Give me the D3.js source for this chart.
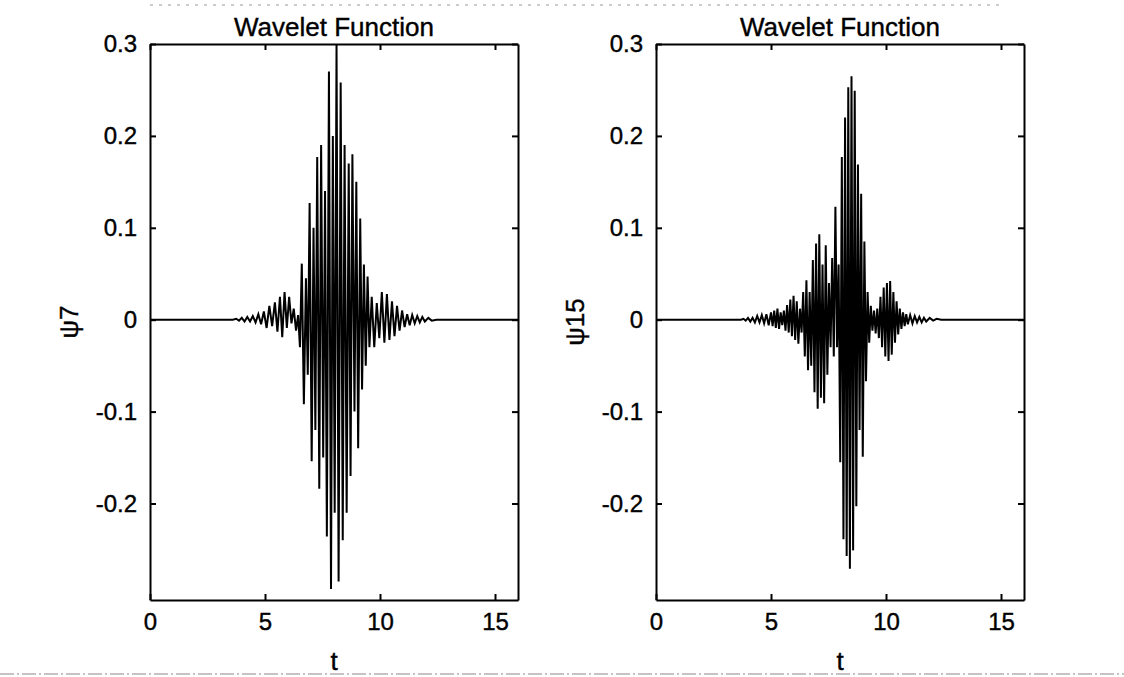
<!DOCTYPE html>
<html>
<head>
<meta charset="utf-8">
<script src="https://cdn.jsdelivr.net/npm/d3@7"></script>
<style>
  html, body { margin: 0; padding: 0; background: #fff; }
  svg { display: block; }
  text { font-family: "Liberation Sans", Arial, Helvetica, sans-serif; fill: #000; stroke: #000; stroke-width: 0.4px; }
</style>
</head>
<body>
<svg id="chart" width="1124" height="677"></svg>
<script>
// ---------------- data ----------------
const chartTitle = "Wavelet Function";
const xLabel = "t";
const yLabels = ["ψ7", "ψ15"];
const xTicks = [0, 5, 10, 15];
const yTicks = [-0.2, -0.1, 0, 0.1, 0.2, 0.3];
const xDomain = [0, 16];
const yDomain = [-0.305, 0.3];

// psi7: local extrema of the plotted wavelet (t, value)
const t7 = [0, 3.60, 3.75, 3.87, 3.99, 4.11, 4.23, 4.35, 4.47, 4.59, 4.71, 4.83, 4.95, 5.07, 5.19, 5.31,
  5.43, 5.54, 5.65, 5.75, 5.85, 5.95, 6.05, 6.15, 6.25, 6.35, 6.44,
  6.52, 6.60, 6.69, 6.78, 6.86, 6.94, 7.03, 7.11, 7.19, 7.27, 7.36, 7.44, 7.53, 7.61, 7.69, 7.78,
  7.87, 7.95, 8.03, 8.11, 8.20, 8.29, 8.38, 8.46, 8.55, 8.64, 8.72, 8.80, 8.89, 8.97, 9.05, 9.14,
  9.22, 9.30, 9.38, 9.46, 9.54,
  9.64, 9.75, 9.86, 9.97, 10.08, 10.19, 10.30, 10.41, 10.52, 10.63, 10.74, 10.85, 10.96, 11.07,
  11.18, 11.29, 11.40, 11.51, 11.62, 11.73, 11.84, 11.95, 12.10, 12.25, 12.45, 16];
const psi7 = [0, 0, 0.001, -0.001, 0.002, -0.002, 0.003, -0.002, 0.004, -0.003, 0.006, -0.005, 0.009, -0.009, 0.015, -0.007,
  0.019, -0.013, 0.025, -0.019, 0.030, -0.009, 0.025, -0.004, 0.012, -0.012, 0.005,
  -0.030, 0.061, -0.092, 0.045, -0.060, 0.127, -0.154, 0.100, -0.120, 0.177, -0.184, 0.190, -0.150, 0.140, -0.236, 0.270,
  -0.293, 0.200, -0.210, 0.300, -0.285, 0.258, -0.240, 0.190, -0.210, 0.170, -0.170, 0.180, -0.100, 0.150, -0.140, 0.110,
  -0.076, 0.060, -0.050, 0.047, -0.030,
  0.025, -0.030, 0.018, -0.020, 0.030, -0.025, 0.028, -0.022, 0.020, -0.018, 0.015, -0.012, 0.010, -0.008,
  0.006, -0.006, 0.005, -0.004, 0.004, -0.003, 0.003, -0.002, 0.002, -0.001, 0, 0];

// psi15: local extrema of the plotted wavelet (t, value)
const t15 = [0, 3.70, 3.80, 3.90, 4.00, 4.10, 4.20, 4.30, 4.40, 4.50, 4.60, 4.70, 4.80, 4.90, 5.00, 5.07,
  5.14, 5.21, 5.28, 5.35, 5.42, 5.49, 5.56, 5.63, 5.70, 5.77, 5.84, 5.91, 5.98, 6.05, 6.12, 6.19,
  6.26, 6.33, 6.40, 6.47, 6.54, 6.61, 6.68, 6.75, 6.82, 6.89, 6.96, 7.03, 7.10, 7.17, 7.24, 7.31,
  7.38, 7.45, 7.52, 7.59, 7.66, 7.73, 7.80, 7.87, 7.94, 8.01, 8.08, 8.15, 8.22, 8.29, 8.36, 8.43,
  8.50, 8.57, 8.64, 8.71, 8.78, 8.85, 8.92, 8.99, 9.06, 9.13, 9.20, 9.27, 9.34, 9.41, 9.48, 9.55,
  9.62, 9.69, 9.76, 9.83, 9.90, 9.97, 10.04, 10.11, 10.18, 10.25, 10.32, 10.39, 10.46, 10.53, 10.60, 10.67,
  10.74, 10.81, 10.88, 10.95, 11.05, 11.15, 11.25, 11.35, 11.45, 11.55, 11.65, 11.75, 11.90, 12.05, 12.20, 12.40, 16];
const psi15 = [0, 0, 0.001, -0.001, 0.002, -0.002, 0.002, -0.003, 0.004, -0.003, 0.005, -0.004, 0.006, -0.006, 0.008, -0.007,
  0.010, -0.009, 0.012, -0.010, 0.008, -0.006, 0.010, -0.012, 0.016, -0.014, 0.022, -0.018, 0.026, -0.022, 0.020, -0.026,
  0.012, -0.014, 0.030, -0.040, 0.043, -0.055, 0.030, -0.050, 0.065, -0.079, 0.083, -0.097, 0.093, -0.085, 0.060, -0.091,
  0.081, -0.060, 0.040, -0.030, 0.067, -0.040, 0.123, -0.030, 0.060, -0.155, 0.177, -0.239, 0.220, -0.257, 0.253, -0.271,
  0.265, -0.251, 0.249, -0.203, 0.169, -0.120, 0.137, -0.149, 0.085, -0.067, 0.030, -0.025, 0.015, -0.012, 0.010, -0.015,
  0.012, -0.020, 0.025, -0.030, 0.035, -0.040, 0.040, -0.045, 0.042, -0.038, 0.030, -0.025, 0.020, -0.016, 0.012, -0.010,
  0.008, -0.007, 0.006, -0.005, 0.005, -0.004, 0.004, -0.003, 0.003, -0.003, 0.002, -0.002, 0.002, -0.001, 0.001, 0, 0];

const series = [
  { t: t7, v: psi7, ylab: yLabels[0] },
  { t: t15, v: psi15, ylab: yLabels[1] }
];

// ---------------- layout ----------------
const svg = d3.select("#chart");
const plotTop = 44, plotBottom = 600;
const panelX = [[150, 518], [656, 1024]];
const fontSize = 24;

// faint scan frame lines
svg.append("line").attr("x1", 0).attr("x2", 1124).attr("y1", 674).attr("y2", 674)
  .attr("stroke", "#888").attr("stroke-width", 1).attr("stroke-dasharray", "14,3,2,3");
svg.append("line").attr("x1", 150).attr("x2", 1000).attr("y1", 5).attr("y2", 5)
  .attr("stroke", "#999").attr("stroke-width", 1).attr("stroke-dasharray", "3,6");

series.forEach((s, i) => {
  const [x0, x1] = panelX[i];
  const x = d3.scaleLinear().domain(xDomain).range([x0, x1]);
  const y = d3.scaleLinear().domain(yDomain).range([plotBottom, plotTop]);
  const g = svg.append("g");

  // data line
  const pts = s.t.map((t, k) => [t, s.v[k]]);
  g.append("path")
    .datum(pts)
    .attr("fill", "none")
    .attr("stroke", "#000")
    .attr("stroke-width", 2)
    .attr("stroke-linejoin", "miter")
    .attr("d", d3.line().x(d => x(d[0])).y(d => y(d[1])));

  // axes (MATLAB-style inward ticks, full box)
  const styleAxis = sel => {
    sel.select(".domain").attr("stroke", "#000").attr("stroke-width", 2);
    sel.selectAll(".tick line").attr("stroke", "#000").attr("stroke-width", 2);
    sel.selectAll("text").style("font-size", fontSize + "px").attr("fill", "#000");
  };
  g.append("g").attr("transform", `translate(0,${plotBottom})`)
    .call(d3.axisBottom(x).tickValues(xTicks).tickSizeInner(-6).tickSizeOuter(0).tickPadding(13).tickFormat(d => String(d)))
    .call(styleAxis);
  g.append("g").attr("transform", `translate(0,${plotTop})`)
    .call(d3.axisTop(x).tickValues(xTicks).tickSizeInner(-6).tickSizeOuter(0).tickFormat(""))
    .call(styleAxis);
  g.append("g").attr("transform", `translate(${x0},0)`)
    .call(d3.axisLeft(y).tickValues(yTicks).tickSizeInner(-6).tickSizeOuter(0).tickPadding(13).tickFormat(d => String(d)))
    .call(styleAxis);
  g.append("g").attr("transform", `translate(${x1},0)`)
    .call(d3.axisRight(y).tickValues(yTicks).tickSizeInner(-6).tickSizeOuter(0).tickFormat(""))
    .call(styleAxis);
  g.selectAll(".domain").attr("fill", "none");

  const cx = (x0 + x1) / 2;
  // title
  g.append("text").attr("x", cx).attr("y", 36).attr("text-anchor", "middle")
    .style("font-size", "26px").text(chartTitle);
  // x label
  g.append("text").attr("x", cx).attr("y", 670).attr("text-anchor", "middle")
    .style("font-size", "26px").text(xLabel);
  // y label
  g.append("text")
    .attr("transform", `translate(${x0 - 81},${(plotTop + plotBottom) / 2}) rotate(-90)`)
    .attr("text-anchor", "middle").attr("dominant-baseline", "central")
    .style("font-size", "26px").text(s.ylab);
});
</script>
</body>
</html>
